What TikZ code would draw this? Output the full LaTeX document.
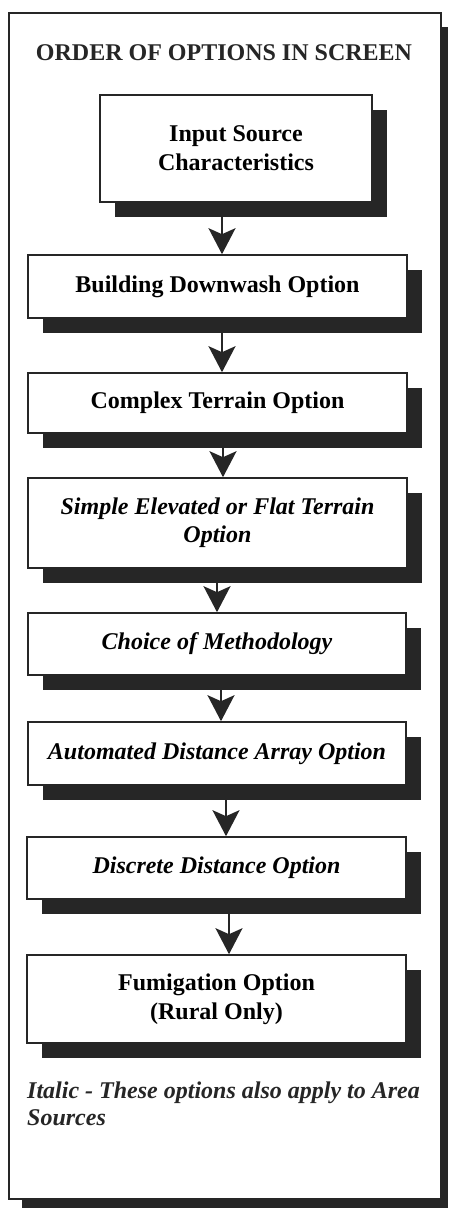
\documentclass[tikz,border=0pt]{standalone}
\usepackage{fontspec}
\setmainfont{Liberation Serif}
\usetikzlibrary{arrows.meta,shadows}
\definecolor{ink}{RGB}{38,38,38}
\tikzset{
  optbox/.style={draw=ink, line width=1.6pt, fill=white, align=center, inner sep=0pt,
    font=\fontsize{24}{29}\selectfont\bfseries,
    drop shadow={shadow xshift=15pt, shadow yshift=-15pt, fill=ink, opacity=1}},
  itbox/.style={optbox, font=\fontsize{24}{28}\selectfont\bfseries\itshape},
  flow/.style={draw=ink, line width=2pt, -{Stealth[length=26pt, width=27pt, inset=6pt]}}
}
\begin{document}
\begin{tikzpicture}[x=1pt, y=-1pt]
\useasboundingbox (0,0) rectangle (448,1208);
% outer frame with shadow
\fill[ink] (22,27) rectangle (448,1208);
\draw[ink, line width=2.5pt, fill=white] (9,13) rectangle (441,1199);
\node[font=\fontsize{24}{28}\selectfont\bfseries, text=ink] (title) at (224,53) {ORDER OF OPTIONS IN SCREEN};
% boxes
\node[optbox, minimum width=272pt, minimum height=107pt] (b1) at (236,148.5) {Input Source\\Characteristics};
\node[optbox, minimum width=379pt, minimum height=63pt] (b2) at (217.5,286.5) {Building Downwash Option};
\node[optbox, minimum width=379pt, minimum height=60pt] (b3) at (217.5,403) {Complex Terrain Option};
\node[itbox, minimum width=379pt, minimum height=90pt] (b4) at (217.5,523) {Simple Elevated or Flat Terrain\\Option};
\node[itbox, minimum width=378pt, minimum height=62pt] (b5) at (217,644) {Choice of Methodology};
\node[itbox, minimum width=378pt, minimum height=63pt] (b6) at (217,753.5) {Automated Distance Array Option};
\node[itbox, minimum width=379pt, minimum height=62pt] (b7) at (216.5,868) {Discrete Distance Option};
\node[optbox, minimum width=379pt, minimum height=88pt] (b8) at (216.5,999) {Fumigation Option\\(Rural Only)};
% footnote
\node[anchor=north west, inner sep=0pt, align=left, text=ink,
  font=\fontsize{24}{27}\selectfont\bfseries\itshape] (note) at (27,1082)
  {Italic - These options also apply to Area\\Sources};
% arrow x positions
\coordinate (x1) at (222,0);
\coordinate (x2) at (222,0);
\coordinate (x3) at (223,0);
\coordinate (x4) at (217,0);
\coordinate (x5) at (221,0);
\coordinate (x6) at (226,0);
\coordinate (x7) at (229,0);
\draw[flow] (b1.south -| x1) -- (b2.north -| x1);
\draw[flow] (b2.south -| x2) -- (b3.north -| x2);
\draw[flow] (b3.south -| x3) -- (b4.north -| x3);
\draw[flow] (b4.south -| x4) -- (b5.north -| x4);
\draw[flow] (b5.south -| x5) -- (b6.north -| x5);
\draw[flow] (b6.south -| x6) -- (b7.north -| x6);
\draw[flow] (b7.south -| x7) -- (b8.north -| x7);
\end{tikzpicture}
\end{document}
